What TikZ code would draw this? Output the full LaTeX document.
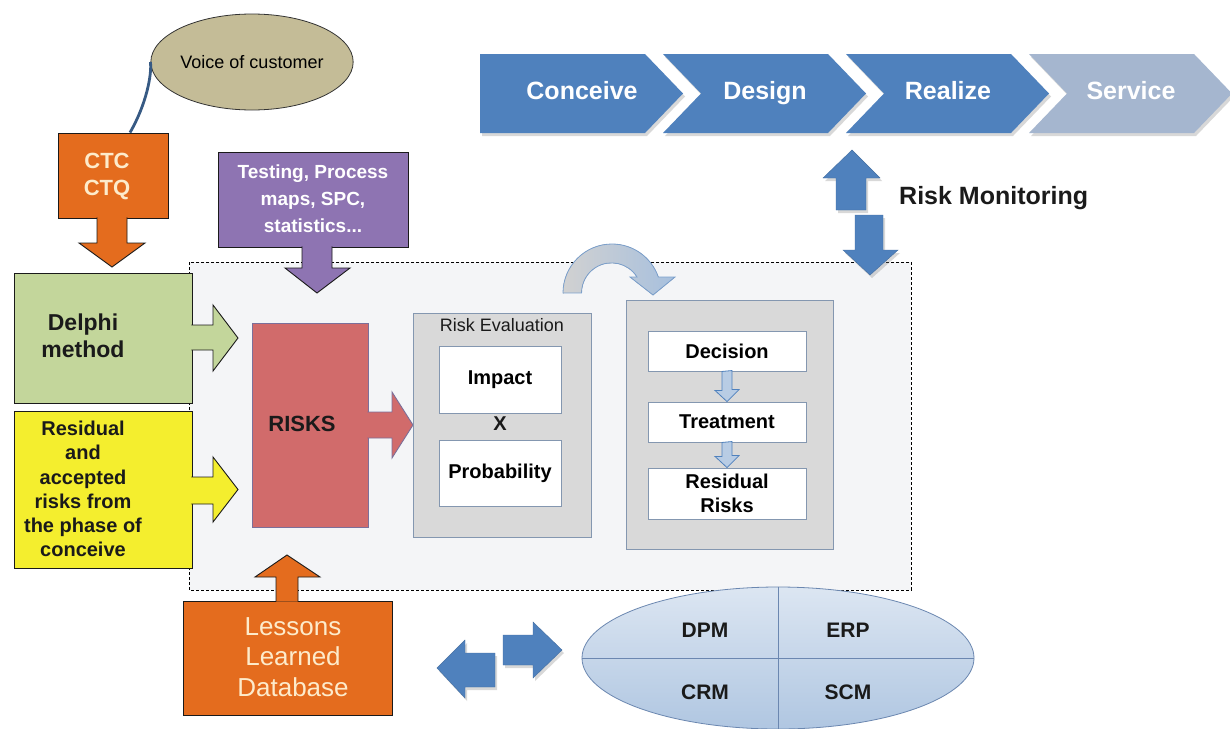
\documentclass[tikz,border=0pt]{standalone}
\usepackage{fontspec}
\setmainfont{Liberation Sans}
\usepackage{tikz}
\usetikzlibrary{
  positioning,
  shapes.geometric,
  shadows, calc
}
\definecolor{ctqorange}{HTML}{E46C1E}
\definecolor{toolpurple}{HTML}{8E74B2}
\definecolor{delphigreen}{HTML}{C3D69B}
\definecolor{residyellow}{HTML}{F4EE2E}
\definecolor{riskred}{HTML}{D16B6B}
\definecolor{riskedge}{HTML}{7B6F9A}
\definecolor{evalgray}{HTML}{D9D9D9}
\definecolor{evaledge}{HTML}{8497B0}
\definecolor{phaseblue}{HTML}{4F81BD}
\definecolor{phaselight}{HTML}{A5B6CF}
\definecolor{voctan}{HTML}{C4BC97}
\definecolor{cream}{HTML}{FDEBCB}
\definecolor{txtdark}{HTML}{1A1A1A}
\definecolor{zonefill}{HTML}{F4F5F7}
\definecolor{stepfill}{HTML}{B8CCE4}
\definecolor{sysedge}{HTML}{6B87B0}
\tikzset{
  boxline/.style={
    draw=txtdark,
    line width=0.9pt,
  },
  calloutbox/.style={
    boxline,
    rectangle,
    inner sep=0pt,
  },
  evalbox/.style={
    draw=evaledge,
    fill=evalgray,
    line width=0.9pt,
    rectangle,
    inner sep=0pt,
  },
  itembox/.style={
    draw=evaledge,
    fill=white,
    line width=0.9pt,
    rectangle,
    inner sep=0pt,
  },
  darktxt/.style={
    text=txtdark,
    align=center,
    inner sep=0pt,
  },
  lighttxt/.style={
    darktxt,
    text=cream,
  },
  softshadow/.style={
    drop shadow={opacity=0.3, shadow xshift=2pt, shadow yshift=-3pt},
  },
  blockarrow/.style={
    fill=phaseblue,
    draw=phaseblue!85!black,
    line width=0.4pt,
    softshadow,
  },
  stepshape/.style={
    fill=stepfill,
    draw=phaseblue,
    line width=0.8pt,
  },
}
\newcommand{\txtsize}[2]{\fontsize{#1}{#2}\selectfont}
\newcommand{\steparrow}[3]{%
  \filldraw[stepshape] (#1.south) ++(-5,0) -- ++(0,#3) -- ++(-7,0) -- (#2.north)
    -- ++(12,-12) -- ++(-7,0) -- ++(0,-#3) -- cycle;}

\begin{document}
\begin{tikzpicture}[x=1pt, y=-1pt]
  \useasboundingbox (0,0) rectangle (1230,728);
  \fill[white] (0,0) rectangle (1230,728);

  % working area
  \draw[fill=zonefill, dash pattern=on 3pt off 2pt, line width=0.7pt]
    (189,262) rectangle (911,590);

  % life cycle phases
  \foreach \x/\n/\lab/\col in {480/0/Conceive/phaseblue, 663/38/Design/phaseblue,
      846/38/Realize/phaseblue, 1029/38/Service/phaselight}{
    \fill[\col, softshadow] (\x,54) -- ++(165,0) -- ++(38,39.5) -- ++(-38,39.5)
      -- ++(-165,0) -- ++(\n,-39.5) -- cycle;
    \node[darktxt, text=white, text height=18pt, text depth=5pt,
      font=\bfseries\txtsize{25}{30}] (ph-\lab) at (\x+102,93) {\lab};
  }

  % voice of customer
  \node[ellipse, draw=black!80, fill=voctan, line width=0.8pt, minimum width=170pt,
    minimum height=96pt, inner sep=0pt, font=\txtsize{18}{21}] (voc) at (252,62) {Voice of customer};

  % CTC / CTQ
  \node[calloutbox, fill=ctqorange, minimum width=110pt, minimum height=85pt] (ctcbox) at (113,175.5) {};
  \filldraw[boxline, fill=ctqorange] (97,217.4) -- (97,243) -- (79,243) -- (112,267)
    -- (145,243) -- (127,243) -- (127,217.4);
  \node[lighttxt, font=\bfseries\txtsize{22}{27}] (ctc) at (107,176) {CTC\\CTQ};
  \draw[draw=phaseblue!70!black, line width=2.8pt] (voc.west)
    .. controls (152,75) and (146,105) .. ([xshift=17pt]ctcbox.north);

  % tools
  \node[calloutbox, fill=toolpurple, minimum width=190pt, minimum height=95pt] (toolbox) at (313,199.5) {};
  \filldraw[boxline, fill=toolpurple] (302,246.4) -- (302,268) -- (285,268) -- (317,293)
    -- (350,268) -- (332,268) -- (332,246.4);
  \node[darktxt, text=white, font=\bfseries\txtsize{19}{27}] (tools) at (313,199) {Testing, Process\\maps, SPC,\\statistics...};

  % inputs on the left
  \node[calloutbox, fill=delphigreen, minimum width=178pt, minimum height=130pt] (delphibox) at (103,338) {};
  \filldraw[boxline, fill=delphigreen] (191.4,325) -- (213,325) -- (213,305) -- (238,338)
    -- (213,371) -- (213,350) -- (191.4,350);
  \node[darktxt, font=\bfseries\txtsize{23}{27}] (delphi) at (83,336) {Delphi\\method};

  \node[calloutbox, fill=residyellow, minimum width=178pt, minimum height=157pt] (residbox) at (103,489.5) {};
  \filldraw[boxline, fill=residyellow] (191.4,477) -- (213,477) -- (213,457) -- (238,489.5)
    -- (213,522) -- (213,504) -- (191.4,504);
  \node[darktxt, font=\bfseries\txtsize{20}{24.2}] (resid) at (83,489) {Residual\\and\\accepted\\risks from\\the phase of\\conceive};

  % risks
  \node[calloutbox, draw=riskedge, fill=riskred, minimum width=116pt, minimum height=204pt] (riskbox) at (310,425) {};
  \filldraw[boxline, draw=riskedge, fill=riskred] (367.4,412) -- (392,412) -- (392,392) -- (413,425)
    -- (392,458) -- (392,438) -- (367.4,438);
  \node[darktxt, font=\bfseries\txtsize{22}{26}] (risks) at (302,424) {RISKS};

  % risk evaluation
  \node[evalbox, minimum width=178pt, minimum height=224pt] (evalzone) at (502,425) {};
  \node[darktxt, font=\txtsize{18}{22}] (evaltitle) at (502,325) {Risk Evaluation};
  \node[itembox, minimum width=122pt, minimum height=67pt, font=\bfseries\txtsize{20}{24}] (impact) at (500,379.5) {Impact};
  \node[darktxt, font=\bfseries\txtsize{20}{24}] (times) at (500,424) {X};
  \node[itembox, minimum width=122pt, minimum height=66pt, font=\bfseries\txtsize{20}{24}] (prob) at (500,473) {Probability};

  % treatment
  \node[evalbox, minimum width=207pt, minimum height=249pt] (treatzone) at (729.5,424.5) {};
  \node[itembox, minimum width=158pt, minimum height=40pt, font=\bfseries\txtsize{20}{24}] (decision) at (727,351) {Decision};
  \node[itembox, minimum width=158pt, minimum height=40pt, font=\bfseries\txtsize{20}{24}] (treatment) at (727,422) {Treatment};
  \node[itembox, minimum width=158pt, minimum height=51pt, font=\bfseries\txtsize{20}{24}, align=center] (residual) at (727,493.5) {Residual\\Risks};
  \steparrow{decision}{treatment}{19}
  \steparrow{treatment}{residual}{14}

  % curved arrow between evaluation and treatment
  \filldraw[left color=black!18, right color=phaseblue!50, draw=phaseblue!75, line width=0.8pt]
    (563,293) arc (180:341:49) -- (675,277) -- (653,295) -- (630,277) -- (637,277)
    arc (328:180:30) -- cycle;

  % risk monitoring
  \filldraw[blockarrow] (836,210) -- (836,178) -- (823,178) -- (852,150) -- (880,178)
    -- (866,178) -- (866,210) -- cycle;
  \filldraw[blockarrow] (855,215) -- (855,250) -- (843,250) -- (870,275) -- (898,250)
    -- (883,250) -- (883,215) -- cycle;
  \node[darktxt, anchor=west, font=\bfseries\txtsize{25}{30}] (monitor) at (899,198) {Risk Monitoring};

  % lessons learned
  \node[calloutbox, fill=ctqorange, minimum width=209pt, minimum height=114pt] (lessonbox) at (287.5,658) {};
  \filldraw[boxline, fill=ctqorange] (276,601.6) -- (276,577) -- (255,577) -- (287,555)
    -- (320,577) -- (298,577) -- (298,601.6);
  \node[lighttxt, font=\txtsize{26}{30.5}] (lessons) at (293,657) {Lessons\\Learned\\Database};

  % exchange with enterprise systems
  \filldraw[blockarrow] (495,653) -- (465,653) -- (465,640) -- (437,668) -- (465,698)
    -- (465,687) -- (495,687) -- cycle;
  \filldraw[blockarrow] (503,635) -- (533,635) -- (533,622) -- (562,650) -- (533,678)
    -- (533,665) -- (503,665) -- cycle;

  \node[ellipse, draw=sysedge, line width=0.8pt, top color=phaseblue!20, bottom color=phaseblue!45,
    minimum width=392pt, minimum height=142pt, inner sep=0pt] (systems) at (778,658) {};
  \draw[sysedge, line width=0.8pt] (systems.north) -- (systems.south);
  \draw[sysedge, line width=0.8pt] (systems.west) -- (systems.east);
  \node[darktxt, font=\bfseries\txtsize{21}{25}] (dpm) at (705,630) {DPM};
  \node[darktxt, font=\bfseries\txtsize{21}{25}] (erp) at (848,630) {ERP};
  \node[darktxt, font=\bfseries\txtsize{21}{25}] (crm) at (705,692) {CRM};
  \node[darktxt, font=\bfseries\txtsize{21}{25}] (scm) at (848,692) {SCM};
\end{tikzpicture}
\end{document}
